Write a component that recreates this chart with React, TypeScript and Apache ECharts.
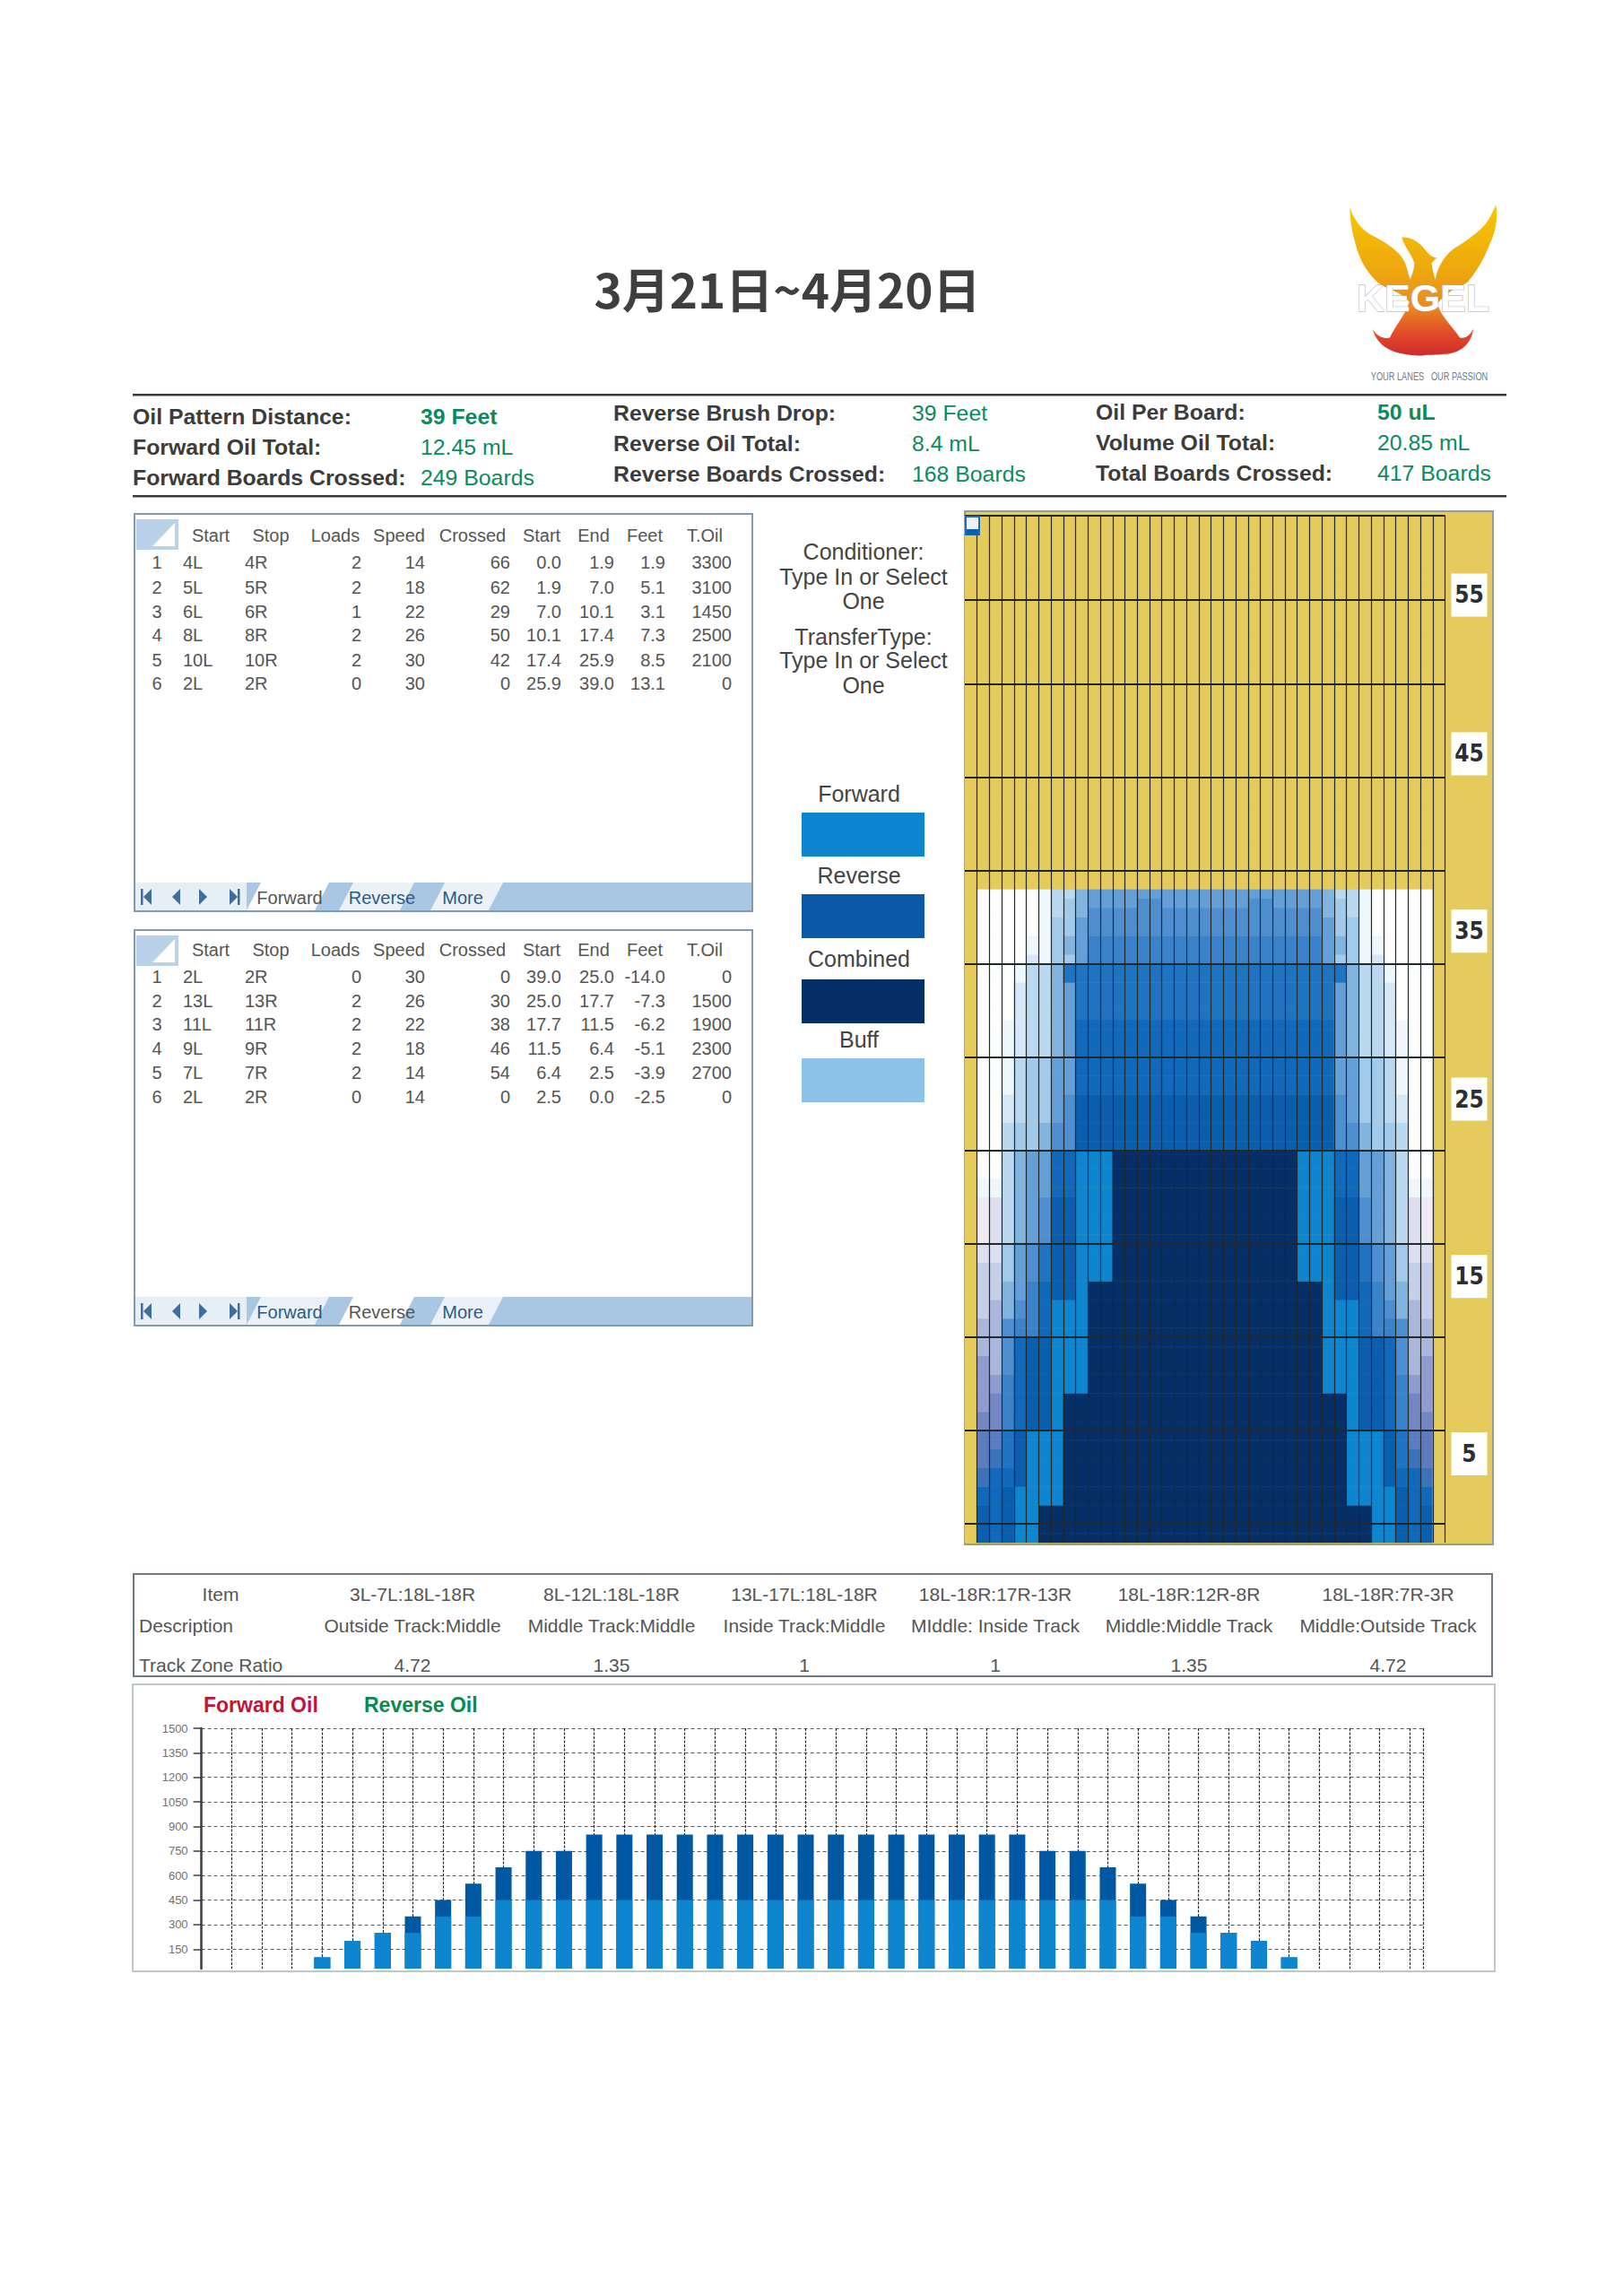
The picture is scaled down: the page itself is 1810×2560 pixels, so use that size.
import React, { useEffect, useRef } from "react";
import * as echarts from "echarts";

// ---------- data ----------
const titleText = "3月21日~4月20日";
const summaryLabels = [
  ["Oil Pattern Distance:", "Forward Oil Total:", "Forward Boards Crossed:"],
  ["Reverse Brush Drop:", "Reverse Oil Total:", "Reverse Boards Crossed:"],
  ["Oil Per Board:", "Volume Oil Total:", "Total Boards Crossed:"],
];
const summaryValues = [
  ["39 Feet", "12.45 mL", "249 Boards"],
  ["39 Feet", "8.4 mL", "168 Boards"],
  ["50 uL", "20.85 mL", "417 Boards"],
];
const stepHeaders = ["Start", "Stop", "Loads", "Speed", "Crossed", "Start", "End", "Feet", "T.Oil"];
const forwardSteps = [
  ["4L", "4R", "2", "14", "66", "0.0", "1.9", "1.9", "3300"],
  ["5L", "5R", "2", "18", "62", "1.9", "7.0", "5.1", "3100"],
  ["6L", "6R", "1", "22", "29", "7.0", "10.1", "3.1", "1450"],
  ["8L", "8R", "2", "26", "50", "10.1", "17.4", "7.3", "2500"],
  ["10L", "10R", "2", "30", "42", "17.4", "25.9", "8.5", "2100"],
  ["2L", "2R", "0", "30", "0", "25.9", "39.0", "13.1", "0"],
];
const reverseSteps = [
  ["2L", "2R", "0", "30", "0", "39.0", "25.0", "-14.0", "0"],
  ["13L", "13R", "2", "26", "30", "25.0", "17.7", "-7.3", "1500"],
  ["11L", "11R", "2", "22", "38", "17.7", "11.5", "-6.2", "1900"],
  ["9L", "9R", "2", "18", "46", "11.5", "6.4", "-5.1", "2300"],
  ["7L", "7R", "2", "14", "54", "6.4", "2.5", "-3.9", "2700"],
  ["2L", "2R", "0", "14", "0", "2.5", "0.0", "-2.5", "0"],
];
const infoLines = ["Conditioner:", "Type In or Select", "One", "TransferType:", "Type In or Select", "One"];
const legendNames = ["Forward", "Reverse", "Combined", "Buff"];
const legendColors = ["#0E86CF", "#0A58A6", "#052F66", "#8DC2E8"];
const zoneItems = ["Item", "3L-7L:18L-18R", "8L-12L:18L-18R", "13L-17L:18L-18R", "18L-18R:17R-13R", "18L-18R:12R-8R", "18L-18R:7R-3R"];
const zoneDescriptions = ["Description", "Outside Track:Middle", "Middle Track:Middle", "Inside Track:Middle", "MIddle: Inside Track", "Middle:Middle Track", "Middle:Outside Track"];
const zoneRatios = ["Track Zone Ratio", "4.72", "1.35", "1", "1", "1.35", "4.72"];

const oilBoards = [4, 5, 6, 7, 8, 9, 10, 11, 12, 13, 14, 15, 16, 17, 18, 19, 20, 21, 22, 23, 24, 25, 26, 27, 28, 29, 30, 31, 32, 33, 34, 35, 36];
const forwardOil = [100, 200, 250, 250, 350, 350, 450, 450, 450, 450, 450, 450, 450, 450, 450, 450, 450, 450, 450, 450, 450, 450, 450, 450, 450, 450, 450, 350, 350, 250, 250, 200, 100];
const reverseOil = [0, 0, 0, 100, 100, 200, 200, 300, 300, 400, 400, 400, 400, 400, 400, 400, 400, 400, 400, 400, 400, 400, 400, 400, 300, 300, 200, 200, 100, 100, 0, 0, 0];
const oilTicks = [150, 300, 450, 600, 750, 900, 1050, 1200, 1350, 1500];
const feetLabels = ["5", "15", "25", "35", "45", "55"];
const feetLabelRows = [9, 28, 47, 65, 84, 101];

const cellColors: Record<string, string> = {
  y: "#E5CB5C", w: "#FFFFFF", a: "#EEF7FB", b: "#D6E8F5", c: "#BAD8EF", d: "#A2CAEA", e: "#82B4E0",
  f: "#649FD7", g: "#4D8FD0", h: "#3A83CA", i: "#1F74C2", j: "#1069BA", k: "#0A5EAE", F: "#0E86CF", D: "#052F66",
  l: "#EFEBF5", m: "#DDDFF0", n: "#C6CFE8", o: "#ABB6DC", q: "#8E9CD0", r: "#7486C4", s: "#5C7CBF", t: "#3B73BA",
};
// [rows, codes of boards 1..20], from the far end of the lane to the foul line; the lane is mirrored about board 20.
const patternBands: [number, string][] = [
  [40, "yyyyyyyyyyyyyyyyyyyy"],
  [1, "ywwwwwacceffffffffff"],
  [1, "ywwwwwacdeffffggffff"],
  [1, "ywwwwwacdegggggggggg"],
  [2, "ywwwwwaddfgggggggggg"],
  [2, "ywwwwaadefhhhhhhhhhh"],
  [1, "ywwwwbaddfhhhhhhhhhh"],
  [2, "ywwwacceiiiiiiiiiiii"],
  [4, "ywwwbccefiiiiiiiiiii"],
  [4, "ywwabccefjjjjjjjjjjj"],
  [4, "ywwacddffjjjjjjjjjjj"],
  [3, "ywwbcddfgkkkkkkkkkkk"],
  [3, "ywwcddeggkkkkkkkkkkk"],
  [3, "ywwceffjjFFFDDDDDDDD"],
  [2, "yaaceffjjFFFDDDDDDDD"],
  [5, "ylmcefgkkFFFDDDDDDDD"],
  [2, "ymmdfgikkFFFDDDDDDDD"],
  [2, "ynndfgikkFFFDDDDDDDD"],
  [2, "ynnefhjkkFDDDDDDDDDD"],
  [2, "ynoeghjFFFDDDDDDDDDD"],
  [2, "yooghhjFFFDDDDDDDDDD"],
  [2, "yoogjkkFFFDDDDDDDDDD"],
  [2, "yqogjkkFFFDDDDDDDDDD"],
  [2, "yqqhjkkFFFDDDDDDDDDD"],
  [2, "yqrhjkkFDDDDDDDDDDDD"],
  [2, "yrrhjkkFDDDDDDDDDDDD"],
  [2, "yssikFFFDDDDDDDDDDDD"],
  [2, "ystikFFFDDDDDDDDDDDD"],
  [2, "ytjjkFFFDDDDDDDDDDDD"],
  [2, "yjjkFFFFDDDDDDDDDDDD"],
  [4, "ykjkFFDDDDDDDDDDDDDD"],
];

// ---------- derived ----------
const cellCodes = Object.keys(cellColors);
const patternRows: string[] = [];
patternBands.forEach(([n, code]) => {
  const full = code + code.slice(0, 19).split("").reverse().join("");
  for (let i = 0; i < n; i++) patternRows.unshift(full);
});
const boardCats = Array.from({ length: 39 }, (_, i) => String(i + 1));
const rowCats = patternRows.map((_, i) => String(i));
const patternData: number[][] = [];
patternRows.forEach((row, r) => {
  row.split("").forEach((c, b) => {
    patternData.push([b, r, cellCodes.indexOf(c)]);
  });
});
const hLineRows = new Set([2, 12, 22, 32, 42, 52, 62, 72, 82, 92, 101]);

const phoenix =
  "M197 92 C205 130 240 175 275 190 C325 215 375 250 385 290 L398 335 C405 320 412 300 412 280 C405 255 380 225 370 195 C390 190 420 205 440 225 C460 250 470 262 488 262 L470 280 C472 300 478 320 482 335 C490 300 505 265 540 235 C580 210 625 180 650 150 C665 130 678 105 685 85 C695 130 680 190 665 215 C650 260 620 310 590 345 C560 360 520 375 490 415 C495 450 530 480 565 530 C585 535 600 520 610 500 C605 545 570 585 510 585 C480 590 460 585 440 590 C400 590 370 585 340 575 C300 560 280 530 272 500 C285 525 310 535 330 530 C355 480 385 450 395 410 C370 375 320 370 290 345 C250 310 225 260 215 215 C205 180 195 130 197 92 Z";
echarts.graphic.registerShape("kegelLogo", echarts.graphic.extendPath(phoenix, {}) as any);

// ---------- graphic helpers ----------
const SANS = "'Liberation Sans', Arial, sans-serif";
const NARROW = "'Liberation Sans Narrow', 'DejaVu Sans Condensed', 'Liberation Sans', sans-serif";
function txt(x: number, y: number, text: string, o: any = {}) {
  return {
    type: "text", x, y, silent: true, z: o.z ?? 3, scaleX: o.sx ?? 1,
    style: {
      text, fontSize: o.size ?? 20, fontFamily: o.font ?? SANS, fontWeight: o.weight ?? "normal",
      fill: o.color ?? "#555", align: o.align ?? "left", verticalAlign: "middle",
      stroke: o.stroke, lineWidth: o.lineWidth,
    },
  };
}
function rect(x: number, y: number, width: number, height: number, style: any, z = 1) {
  return { type: "rect", silent: true, z, shape: { x, y, width, height }, style };
}
function poly(points: number[][], fill: string, z = 2) {
  return { type: "polygon", silent: true, z, shape: { points }, style: { fill } };
}

const headerX = [235, 302, 374, 445, 527, 604, 662, 719, 786];
const cellX = [204, 273, 403, 474, 569, 626, 685, 742, 816];
const cellAlign = ["left", "left", "right", "right", "right", "right", "right", "right", "right"];

function stepPanel(top: number, bottom: number, headerY: number, rowsY: number[], rows: string[][], selected: number) {
  const el: any[] = [];
  el.push(rect(150, top, 689, bottom - top, { fill: "#fff", stroke: "#7F9AB2", lineWidth: 2 }));
  el.push(rect(152, top + 6, 47, 34, { fill: "#B8D2EA" }));
  el.push(poly([[195, top + 10], [195, top + 36], [170, top + 36]], "#fff"));
  stepHeaders.forEach((h, i) => el.push(txt(headerX[i], headerY, h, { align: "center", size: 20 })));
  rows.forEach((row, r) => {
    el.push(txt(175, rowsY[r], String(r + 1), { align: "center", size: 20 }));
    row.forEach((v, c) => el.push(txt(cellX[c], rowsY[r], v, { align: cellAlign[c], size: 20 })));
  });
  // tab strip
  const barTop = bottom - 32;
  el.push(rect(151, barTop, 687, 31, { fill: "#A9C6E2" }));
  el.push(rect(151, barTop, 124, 31, { fill: "#E6EEF6" }));
  [164, 196, 227, 261].forEach((x, i) => {
    const mid = barTop + 16;
    const left = i < 2;
    el.push(poly(left ? [[x + 5, mid - 9], [x + 5, mid + 9], [x - 4, mid]] : [[x - 5, mid - 9], [x - 5, mid + 9], [x + 4, mid]], "#3F6E9C"));
    if (i === 0) el.push(rect(x - 7, mid - 9, 2.5, 18, { fill: "#3F6E9C" }, 2));
    if (i === 3) el.push(rect(x + 4, mid - 9, 2.5, 18, { fill: "#3F6E9C" }, 2));
  });
  const tabs = [[275, 375, "Forward", 323], [378, 470, "Reverse", 426], [480, 569, "More", 516]] as any[];
  tabs.forEach((t, i) => {
    const on = i === selected;
    el.push(poly([[t[0], barTop + 31], [t[0] + 16, barTop], [t[1] - 8, barTop], [t[1] - 24, barTop + 31]], on ? "#FFFFFF" : "#EAF1F8"));
    el.push(txt(t[3], barTop + 17, t[2], { align: "center", size: 20, color: on ? "#555" : "#2B5B86" }));
  });
  return el;
}

function buildGraphics() {
  const el: any[] = [];
  // title
  el.push(txt(878, 321, titleText, { align: "center", size: 53, weight: "bold", color: "#3F3F3F", font: "'Noto Sans CJK SC', sans-serif" }));
  // logo
  el.push({
    type: "kegelLogo", x: 1440, y: 200, scaleX: 1 / 3, scaleY: 1 / 3, silent: true, z: 2,
    style: {
      fill: {
        type: "linear", x: 0, y: 0, x2: 0, y2: 1,
        colorStops: [
          { offset: 0, color: "#F6C800" }, { offset: 0.45, color: "#EDA60F" }, { offset: 0.68, color: "#E98A1E" },
          { offset: 0.86, color: "#E2492A" }, { offset: 1, color: "#CE2B2B" },
        ],
      },
    },
  });
  el.push(txt(1587, 332, "KEGEL", { align: "center", size: 43, weight: "bold", color: "#FFFFFF", stroke: "#A9A9A9", lineWidth: 1 }));
  el.push(txt(1594, 419, "YOUR LANES   OUR PASSION", { align: "center", size: 13, color: "#6F7C8C", sx: 0.71 }));
  // rules
  el.push(rect(148, 439, 1532, 2.5, { fill: "#3A3A3A" }));
  el.push(rect(148, 552, 1532, 2.5, { fill: "#3A3A3A" }));
  // summary
  const labelX = [148, 684, 1222];
  const valueX = [469, 1017, 1536];
  const rowY = [[464, 498, 532], [460, 494, 528], [459, 493, 527]];
  summaryLabels.forEach((col, c) =>
    col.forEach((label, r) => {
      el.push(txt(labelX[c], rowY[c][r], label, { size: 24.8, weight: "bold", color: "#3C3C3C" }));
      el.push(txt(valueX[c], rowY[c][r], summaryValues[c][r], { size: 24.8, color: "#0B8A60", weight: r === 0 && c !== 1 ? "bold" : "normal" }));
    })
  );
  // step tables
  el.push(...stepPanel(573, 1016, 597, [627, 655, 682, 708, 736, 762], forwardSteps, 0));
  el.push(...stepPanel(1037, 1478, 1059, [1089, 1116, 1142, 1169, 1196, 1223], reverseSteps, 1));
  // info text
  [615, 643, 670, 710, 736, 764].forEach((y, i) => el.push(txt(963, y, infoLines[i], { align: "center", size: 25, color: "#444" })));
  // legend
  const legendTextY = [885, 976, 1069, 1159];
  const legendBoxY = [906, 997, 1092, 1180];
  legendNames.forEach((n, i) => {
    el.push(txt(958, legendTextY[i], n, { align: "center", size: 25, color: "#444" }));
    el.push(rect(894, legendBoxY[i], 137, 49, { fill: legendColors[i] }));
  });
  // pattern backdrop
  el.push(rect(1076, 570, 589, 1152, { fill: cellColors.y, stroke: "#9C9C8E", lineWidth: 2 }, 0));
  el.push(rect(1077, 576, 15, 20, { fill: "#EAF2F8", stroke: "#1E6BB0", lineWidth: 2 }, 10));
  el.push(rect(1078, 590, 13, 6, { fill: "#0A5EAE" }, 10));
  // zone table
  el.push(rect(149, 1755, 1515, 114, { fill: "#fff", stroke: "#6F7A84", lineWidth: 2 }));
  const zoneX = [246, 460, 682, 897, 1110, 1326, 1548];
  [zoneItems, zoneDescriptions, zoneRatios].forEach((row, r) => {
    const y = [1777, 1812, 1856][r];
    row.forEach((v, c) => {
      const first = c === 0 && r > 0;
      el.push(txt(first ? 155 : zoneX[c], y, v, { align: first ? "left" : "center", size: 21, color: "#555" }));
    });
  });
  // oil chart frame + legend names
  el.push(rect(148, 1878, 1519, 320, { fill: "#fff", stroke: "#A9B8BF", lineWidth: 1.5 }, 0));
  el.push(txt(227, 1901, "Forward Oil", { size: 23, weight: "bold", color: "#C0143C" }));
  el.push(txt(406, 1901, "Reverse Oil", { size: 23, weight: "bold", color: "#0C8A4E" }));
  return el;
}

function buildOption(): any {
  return {
    animation: false,
    backgroundColor: "#FFFFFF",
    graphic: { elements: buildGraphics() },
    visualMap: {
      type: "piecewise", show: false, seriesIndex: 0, dimension: 2,
      pieces: cellCodes.map((c, i) => ({ value: i, color: cellColors[c] })),
    },
    grid: [
      { left: 1076, top: 575, width: 535.5, height: 1145, outerBoundsMode: "none" },
      { left: 224.6, top: 1927, width: 1363, height: 268, show: true, borderColor: "#3C4147", borderWidth: 1.5, outerBoundsMode: "none" },
    ],
    xAxis: [
      {
        gridIndex: 0, type: "category", data: boardCats, z: 5,
        axisLine: { show: false }, axisTick: { show: false }, axisLabel: { show: false },
        splitLine: { show: true, interval: (i: number) => i > 0, lineStyle: { color: "#22282A", width: 1.2 } },
      },
      {
        gridIndex: 1, type: "value", min: 0, max: 40.45, interval: 1,
        axisLine: { show: false }, axisTick: { show: false }, axisLabel: { show: false },
        splitLine: { show: true, lineStyle: { color: "#24282C", width: 1.2, type: [3, 1.5] } },
      },
    ],
    yAxis: [
      {
        gridIndex: 0, type: "category", data: rowCats, position: "right", z: 5,
        axisLine: { show: false }, axisTick: { show: false },
        axisLabel: {
          show: true, margin: 7, align: "left",
          interval: (i: number) => feetLabelRows.includes(i),
          formatter: (_v: string, i: number) => `{a|${feetLabels[feetLabelRows.indexOf(i)]}}`,
          rich: {
            a: {
              width: 40, height: 48, lineHeight: 48, backgroundColor: "#FFFFFF", align: "center",
              fontSize: 26, fontWeight: "bold", color: "#2A2F35", fontFamily: NARROW,
            },
          },
        },
        splitLine: { show: true, interval: (i: number) => hLineRows.has(i), lineStyle: { color: "#1E2A30", width: 2 } },
      },
      {
        gridIndex: 1, type: "value", min: 31, max: 1500,
        axisLine: { show: true, lineStyle: { color: "#3A3F44", width: 2.5 } },
        axisTick: { show: true, customValues: oilTicks, length: 9, lineStyle: { color: "#3A3F44", width: 1.5 } },
        axisLabel: { customValues: oilTicks, margin: 15, fontSize: 13, color: "#707070", fontFamily: SANS, formatter: (v: number) => String(v) },
        splitLine: { show: true, lineStyle: { color: "#55595E", width: 1.2, type: [4, 3] } },
      },
    ],
    series: [
      {
        type: "heatmap", xAxisIndex: 0, yAxisIndex: 0, data: patternData, z: 2, silent: true,
        progressive: 0, emphasis: { disabled: true },
      },
      {
        name: "Reverse Oil", type: "bar", xAxisIndex: 1, yAxisIndex: 1, barWidth: 18, barGap: "-100%", z: 3,
        itemStyle: { color: "#0058A3" },
        data: oilBoards.map((b, i) => [b, forwardOil[i] + reverseOil[i]]),
      },
      {
        name: "Forward Oil", type: "bar", xAxisIndex: 1, yAxisIndex: 1, barWidth: 18, barGap: "-100%", z: 4,
        itemStyle: { color: "#0E86CF" },
        data: oilBoards.map((b, i) => [b, forwardOil[i]]),
      },
    ],
  };
}

export default function App() {
  const ref = useRef<HTMLDivElement>(null);
  useEffect(() => {
    if (!ref.current) return;
    const chart = echarts.init(ref.current, undefined, { renderer: "svg" });
    chart.setOption(buildOption());
    return () => chart.dispose();
  }, []);
  return <div ref={ref} style={{ position: "absolute", left: 0, top: 0, width: 1810, height: 2560 }} />;
}
